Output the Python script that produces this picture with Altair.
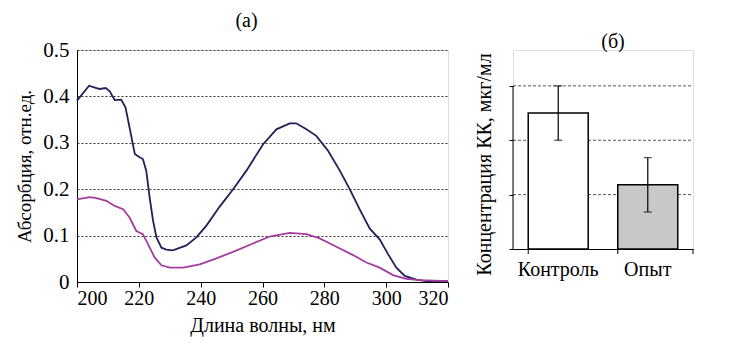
import altair as alt
import pandas as pd

# Panel (a): absorption spectra
wl_dark = [200, 203.9, 206.3, 207.3, 209.3, 210.6, 212.2, 214.3, 215.7, 217, 218.7, 220, 221.3, 222.4,
           223.5, 224.6, 225.7, 227.3, 228.9, 231, 235.4, 238.6, 241.8, 246.1, 250.5, 254.8, 260.2,
           264.5, 268.8, 270.9, 274.2, 277.4, 281.2, 285, 288.2, 291.4, 294.7, 297.9, 300.6, 303.3,
           306, 309.8, 313, 320]
abs_dark = [0.391, 0.423, 0.418, 0.416, 0.418, 0.411, 0.392, 0.393, 0.376, 0.333, 0.276, 0.270, 0.265,
            0.240, 0.182, 0.132, 0.096, 0.074, 0.070, 0.068, 0.079, 0.096, 0.121, 0.162, 0.200, 0.240,
            0.297, 0.329, 0.342, 0.342, 0.329, 0.315, 0.283, 0.240, 0.200, 0.157, 0.115, 0.092, 0.060,
            0.031, 0.013, 0.005, 0.002, 0.002]
wl_mag = [200, 204.1, 206.3, 209.5, 212.2, 214.9, 217, 219.2, 221.3, 223, 225.1, 227.3, 230, 234.3,
          239.7, 245.1, 250.5, 256.9, 262.3, 268.8, 274.2, 278.5, 283.9, 289.3, 293.6, 297.9, 302.2,
          306.5, 310.8, 320]
abs_mag = [0.178, 0.183, 0.181, 0.175, 0.164, 0.157, 0.139, 0.110, 0.103, 0.081, 0.053, 0.036, 0.031,
           0.031, 0.038, 0.051, 0.065, 0.083, 0.098, 0.106, 0.103, 0.094, 0.076, 0.058, 0.042, 0.031,
           0.015, 0.007, 0.004, 0.002]
series_names = ["Контроль", "Опыт"]
series_colors = ["#22205a", "#a43c9e"]
x_ticks = [200, 220, 240, 260, 280, 300, 320]
y_ticks = [0, 0.1, 0.2, 0.3, 0.4, 0.5]

# Panel (б): concentration
groups = ["Контроль", "Опыт"]
conc = [2.5, 1.18]
conc_err = [0.5, 0.5]
bar_fill = ["#ffffff", "#c8c8c8"]
conc_grid = [1, 2, 3]
conc_ticks = [0, 1, 2, 3]
conc_top = 3.66

FONT = "Liberation Serif"
RW, RH = 180, 199

spec = pd.DataFrame(
    {"wl": wl_dark + wl_mag,
     "abs": abs_dark + abs_mag,
     "s": [series_names[0]] * len(wl_dark) + [series_names[1]] * len(wl_mag)}
)

lines = alt.Chart(spec).mark_line(strokeWidth=1.8).encode(
    x=alt.X("wl:Q", scale=alt.Scale(domain=[200, 320], nice=False),
            axis=alt.Axis(title="Длина волны, нм", values=x_ticks, format="d", grid=False,
                          domainColor="#000", tickColor="#000", tickSize=5,
                          labelFontSize=20, titleFontSize=20, labelColor="#000", titleColor="#000",
                          labelFont=FONT, titleFont=FONT, titleFontWeight="normal",
                          labelPadding=1, titlePadding=7)),
    y=alt.Y("abs:Q", scale=alt.Scale(domain=[0, 0.5], nice=False),
            axis=alt.Axis(title="Абсорбция, отн.ед.", values=y_ticks,
                          labelExpr="datum.value == 0 ? '0' : format(datum.value, '.1f')",
                          grid=True, gridColor="#333", gridDash=[2, 2], gridWidth=1,
                          domainColor="#000", ticks=False,
                          labelFontSize=21, titleFontSize=19, labelColor="#000", titleColor="#000",
                          labelFont=FONT, titleFont=FONT, titleFontWeight="normal",
                          labelPadding=8, titlePadding=8)),
    color=alt.Color("s:N", scale=alt.Scale(domain=series_names, range=series_colors), legend=None),
)

left = lines.properties(
    width=371, height=232,
    title=alt.TitleParams("(а)", font=FONT, fontSize=20, fontWeight="normal", color="#000",
                          offset=8, dx=-16),
)

bars_df = pd.DataFrame({"g": groups, "v": conc, "lo": [c - e for c, e in zip(conc, conc_err)],
                        "hi": [c + e for c, e in zip(conc, conc_err)]})

xenc = alt.X("g:N", sort=groups, scale=alt.Scale(paddingInner=0.33, paddingOuter=0.17),
             axis=alt.Axis(title=None, labelAngle=0, labelFontSize=20, labelFont=FONT,
                           labelColor="#000", domainColor="#000", ticks=False,
                           labelPadding=10))

bars = alt.Chart(bars_df).mark_bar(stroke="#000", strokeWidth=1.5).encode(
    x=xenc,
    y=alt.Y("v:Q", scale=alt.Scale(domain=[0, conc_top], nice=False),
            axis=alt.Axis(title="Концентрация КК, мкг/мл", values=conc_ticks, labels=False,
                          grid=False, domain=False, tickColor="#000", tickSize=4,
                          titleFontSize=20, titleFont=FONT, titleColor="#000",
                          titleFontWeight="normal", titlePadding=14, titleY=114)),
    fill=alt.Fill("g:N", scale=alt.Scale(domain=groups, range=bar_fill), legend=None),
)

grid_df = pd.DataFrame({"y": conc_grid})
grid = alt.Chart(grid_df).mark_rule(color="#555", strokeDash=[3, 2], strokeWidth=1).encode(
    y="y:Q", x=alt.value(0), x2=alt.value(RW))

yaxis_line = alt.Chart(pd.DataFrame({"a": [0], "b": [conc_ticks[-1]]})).mark_rule(
    color="#000", strokeWidth=1).encode(x=alt.value(0), y="a:Q", y2="b:Q")

xticks = alt.Chart(bars_df).mark_rule(color="#000", strokeWidth=1).encode(
    x=alt.X("g:N", sort=groups, bandPosition=0), y=alt.value(RH), y2=alt.value(RH + 5))
xtick_end = alt.Chart(pd.DataFrame({"a": [0]})).mark_rule(color="#000", strokeWidth=1).encode(
    x=alt.value(RW), y=alt.value(RH), y2=alt.value(RH + 5))

err = alt.Chart(bars_df).mark_rule(color="#000", strokeWidth=1.2).encode(
    x=alt.X("g:N", sort=groups), y="lo:Q", y2="hi:Q")
cap_lo = alt.Chart(bars_df).mark_tick(color="#000", size=8, thickness=1.2, orient="horizontal").encode(
    x=alt.X("g:N", sort=groups), y="lo:Q")
cap_hi = alt.Chart(bars_df).mark_tick(color="#000", size=8, thickness=1.2, orient="horizontal").encode(
    x=alt.X("g:N", sort=groups), y="hi:Q")

right = alt.layer(grid, bars, yaxis_line, xticks, xtick_end, err, cap_lo, cap_hi).properties(
    width=RW, height=RH,
    title=alt.TitleParams("(б)", font=FONT, fontSize=20, fontWeight="normal", color="#000",
                          offset=-2, dx=10),
)

chart = alt.hconcat(left, right, spacing=21).configure_view(stroke=None).configure(
    background="#ffffff", padding={"left": 7, "top": 2, "right": 5, "bottom": 5})

chart.save("out.html", embed_options={"renderer": "svg", "actions": False})
